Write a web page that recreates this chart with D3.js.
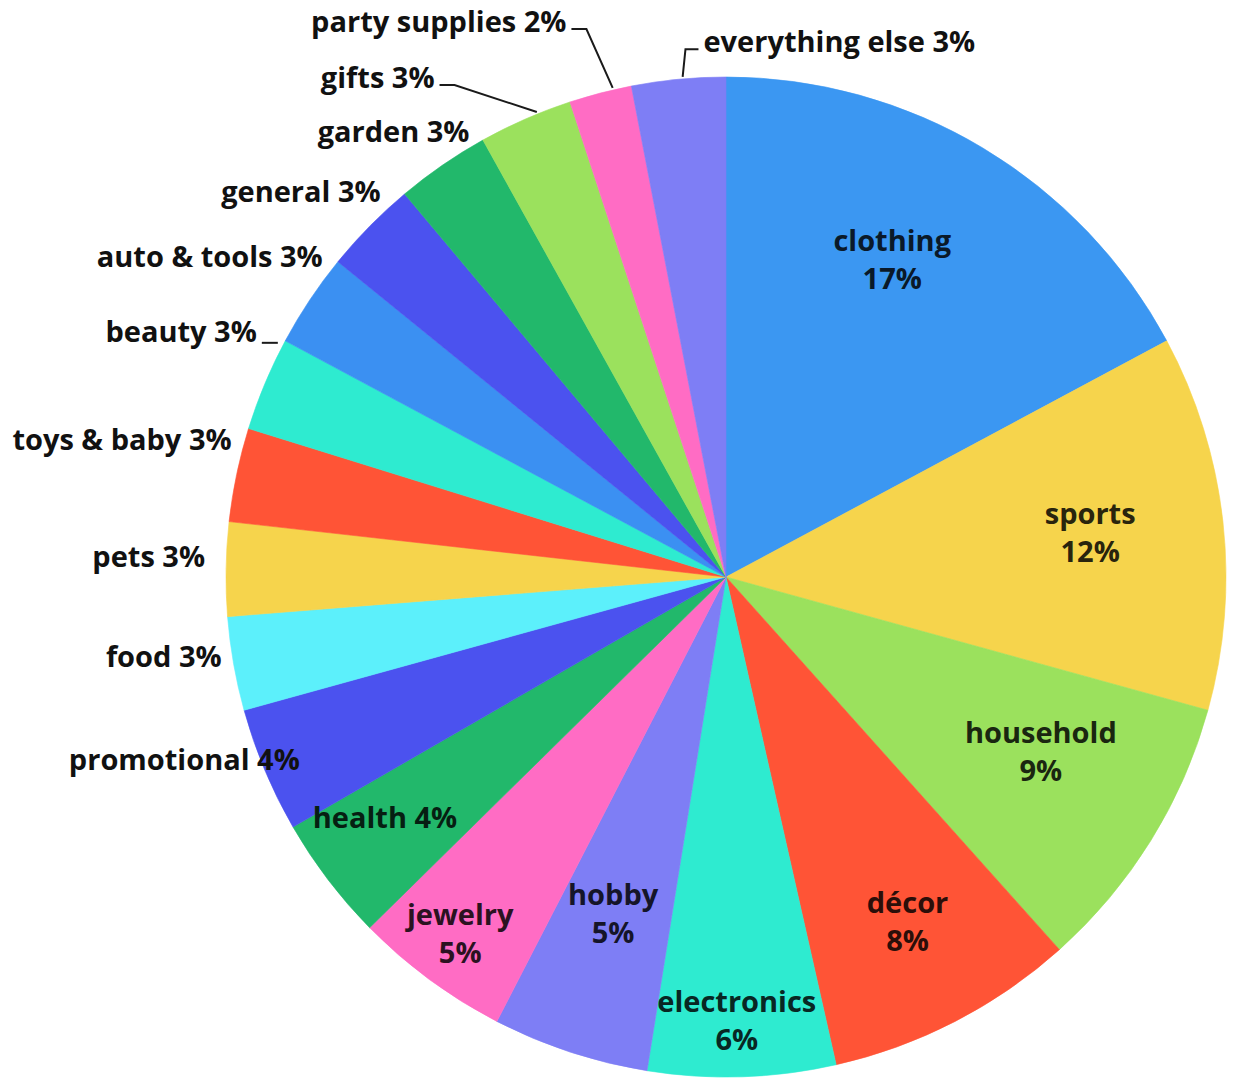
<!DOCTYPE html>
<html>
<head>
<meta charset="utf-8">
<script src="https://cdn.jsdelivr.net/npm/d3@7"></script>
<style>
  html, body { margin: 0; padding: 0; background: #fff; }
  svg { display: block; }
  text { font-family: "Open Sans", "Noto Sans", sans-serif; font-weight: 700; }
</style>
</head>
<body>
<svg id="chart" width="1234" height="1083"></svg>
<script>
// Share of listings by category (percent), clockwise from 12 o'clock
const categories = [
  "clothing", "sports", "household", "décor", "electronics", "hobby", "jewelry",
  "health", "promotional", "food", "pets", "toys & baby", "beauty", "auto & tools",
  "general", "garden", "gifts", "party supplies", "everything else"
];
const shares = [17, 12, 9, 8, 6, 5, 5, 4, 4, 3, 3, 3, 3, 3, 3, 3, 3, 2, 3];

// Slice fills, in the same order as the categories
const sliceColors = [
  "#3b97f2", "#f6d44c", "#9be15d", "#ff5436", "#2eebd0", "#7e7ef5", "#ff6cc4",
  "#22b86b", "#4b52ef", "#5cf0fb", "#f6d44c", "#ff5436", "#2eebd0", "#3b90f2",
  "#4b52ef", "#22b86b", "#9be15d", "#ff6cc4", "#7e7ef5"
];

// Label placement. "in": two-line label inside the slice at radius factor k,
// rotated da degrees from the slice middle. "one": single line inside.
// "out": single line, anchored at the rim point plus (dx, dy).
const labelPlacement = {
  "clothing":        { mode: "in",  k: 0.732, da: -3.9 },
  "sports":          { mode: "in",  k: 0.736, da: -1.9 },
  "household":       { mode: "in",  k: 0.712, da: -4 },
  "décor":           { mode: "in",  k: 0.764, da: -1.1 },
  "electronics":     { mode: "in",  k: 0.87,  da: 0.4 },
  "hobby":           { mode: "in",  k: 0.694, da: 0.8 },
  "jewelry":         { mode: "in",  k: 0.876, da: 1 },
  "health":          { mode: "one", k: 0.847, da: 0.9 },
  "promotional":     { mode: "out", dx: 35,  dy: 0,   anchor: "end" },
  "food":            { mode: "out", dx: -12, dy: 3,   anchor: "end" },
  "pets":            { mode: "out", dx: -21, dy: -2,  anchor: "end" },
  "toys & baby":     { mode: "out", dx: -5,  dy: -25, anchor: "end" },
  "beauty":          { mode: "out", dx: -8,  dy: -42, anchor: "end", leader: "tick" },
  "auto & tools":    { mode: "out", dx: 13,  dy: -33, anchor: "end" },
  "general":         { mode: "out", dx: 11,  dy: -24, anchor: "end" },
  "garden":          { mode: "out", dx: 27,  dy: -23, anchor: "end" },
  "gifts":           { mode: "out", dx: -91, dy: -31, anchor: "end", leader: "elbow" },
  "party supplies":  { mode: "out", dx: -34, dy: -61, anchor: "end", leader: "elbow" },
  "everything else": { mode: "out", dx: 25,  dy: -27, anchor: "start", leader: "elbow" }
};

const width = 1234, height = 1083;
const cx = 726, cy = 577, radius = 500;
const fontSize = 29;

const data = categories.map((name, i) => ({ name, value: shares[i], color: sliceColors[i] }));

const svg = d3.select("#chart");
const g = svg.append("g").attr("transform", `translate(${cx},${cy})`);

const pie = d3.pie().sort(null).value(d => d.value);
const arcs = pie(data);
const arc = d3.arc().innerRadius(0).outerRadius(radius);

g.selectAll("path.slice")
  .data(arcs)
  .join("path")
  .attr("class", "slice")
  .attr("d", arc)
  .attr("fill", d => d.data.color)
  .attr("stroke", d => d.data.color)
  .attr("stroke-width", 0.6);

// polar helper: angle in radians measured clockwise from 12 o'clock
const polar = (a, r) => [Math.sin(a) * r, -Math.cos(a) * r];
const mid = d => (d.startAngle + d.endAngle) / 2;
const pctText = d => `${d.data.value}%`;

const labels = g.append("g").attr("class", "labels");

arcs.forEach(d => {
  const p = labelPlacement[d.data.name];
  if (p.mode === "in" || p.mode === "one") {
    const a = mid(d) + p.da * Math.PI / 180;
    const [x, y] = polar(a, radius * p.k);
    const ink = d3.color(d.data.color).darker(5).formatHex();
    if (p.mode === "in") {
      const t = labels.append("text")
        .attr("text-anchor", "middle")
        .attr("font-size", fontSize)
        .attr("fill", ink);
      t.append("tspan").attr("x", x).attr("y", y).text(d.data.name);
      t.append("tspan").attr("x", x).attr("y", y + 38).text(pctText(d));
    } else {
      labels.append("text")
        .attr("text-anchor", "middle")
        .attr("font-size", fontSize)
        .attr("fill", ink)
        .attr("x", x).attr("y", y)
        .text(`${d.data.name} ${pctText(d)}`);
    }
  } else {
    const rim = polar(mid(d), radius);
    const x = rim[0] + p.dx, y = rim[1] + p.dy;
    labels.append("text")
      .attr("text-anchor", p.anchor)
      .attr("font-size", fontSize)
      .attr("fill", "#111")
      .attr("x", x).attr("y", y)
      .text(`${d.data.name} ${pctText(d)}`);

    if (p.leader === "elbow") {
      const dir = p.anchor === "end" ? 1 : -1;
      const start = [x + dir * 5, y - 3];
      const elbow = [x + dir * (p.anchor === "end" ? 20 : 18), y - 3];
      const end = polar(mid(d) + (p.anchor === "end" ? 1.5 : 0.5) * Math.PI / 180, radius + 2);
      labels.append("path")
        .attr("d", d3.line()([start, elbow, end]))
        .attr("fill", "none")
        .attr("stroke", "#1a1a1a")
        .attr("stroke-width", 2);
    } else if (p.leader === "tick") {
      labels.append("path")
        .attr("d", d3.line()([[x + 5, y + 1], [x + 21, y + 1]]))
        .attr("fill", "none")
        .attr("stroke", "#1a1a1a")
        .attr("stroke-width", 2);
    }
  }
});
</script>
</body>
</html>
